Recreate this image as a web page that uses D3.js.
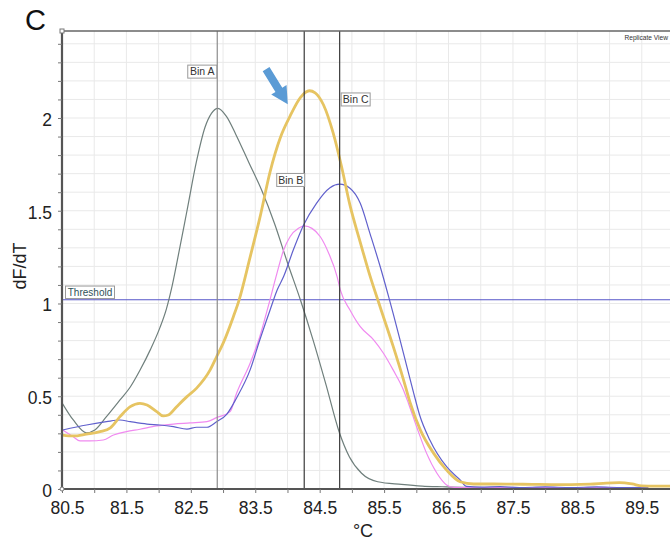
<!DOCTYPE html>
<html>
<head>
<meta charset="utf-8">
<script src="https://cdn.jsdelivr.net/npm/d3@7"></script>
<style>
  body { margin: 0; background: #fff; }
  text { font-family: "Liberation Sans", Arial, sans-serif; }
</style>
</head>
<body>
<svg id="chart" width="670" height="540"></svg>
<script>
// Melt-curve derivative data: [temperature °C, dF/dT]
const greyCurve = [
  [80.50,0.465],[80.675,0.372],[80.88,0.303],[81.01,0.318],[81.19,0.390],[81.40,0.480],
  [81.56,0.55],[81.71,0.64],[81.87,0.75],[82.02,0.87],[82.12,0.97],[82.20,1.08],
  [82.30,1.25],[82.44,1.50],[82.59,1.77],[82.72,1.95],[82.82,2.025],[82.92,2.052],
  [83.05,2.01],[83.20,1.91],[83.40,1.76],[83.60,1.61],[83.80,1.43],[84.00,1.22],
  [84.20,1.02],[84.40,0.80],[84.60,0.56],[84.80,0.31],[84.96,0.174],
  [85.15,0.085],[85.40,0.039],[85.77,0.025],[86.09,0.016],[86.40,0.012],[86.70,0.009],
  [87.2,0.008],[87.8,0.008],[88.4,0.007],[89.0,0.008],[89.6,0.007]
];
const pinkCurve = [
  [80.51,0.318],[80.675,0.282],[80.78,0.259],[80.93,0.259],[81.14,0.264],[81.30,0.291],
  [81.50,0.309],[81.71,0.322],[81.97,0.340],[82.23,0.350],[82.49,0.356],[82.75,0.363],
  [82.90,0.385],[83.11,0.417],[83.21,0.516],[83.42,0.678],[83.57,0.821],[83.70,0.983],
  [83.83,1.154],[83.94,1.288],[84.04,1.360],[84.17,1.405],[84.26,1.418],[84.38,1.405],
  [84.51,1.360],[84.64,1.271],[84.77,1.145],[84.82,1.073],[84.97,0.965],[85.13,0.875],
  [85.34,0.803],[85.49,0.732],[85.64,0.642],[85.80,0.534],[85.88,0.46],[86.01,0.33],
  [86.16,0.192],[86.32,0.085],[86.47,0.022],[86.58,0.009],[87.0,0.007],[87.5,0.008],
  [88.0,0.007],[88.5,0.008],[89.0,0.007],[89.6,0.008]
];
const blueCurve = [
  [80.51,0.318],[80.88,0.345],[81.19,0.363],[81.40,0.372],[81.56,0.363],[81.82,0.350],
  [82.02,0.345],[82.23,0.336],[82.44,0.323],[82.59,0.333],[82.75,0.333],[82.90,0.363],
  [83.06,0.404],[83.21,0.491],[83.42,0.642],[83.57,0.803],[83.73,0.965],[83.84,1.073],
  [83.94,1.145],[84.09,1.288],[84.25,1.423],[84.45,1.540],[84.66,1.624],[84.81,1.643],
  [84.97,1.621],[85.13,1.540],[85.28,1.378],[85.44,1.198],[85.57,1.037],[85.64,0.947],
  [85.80,0.732],[85.96,0.516],[86.05,0.40],[86.21,0.264],[86.47,0.120],[86.68,0.049],
  [86.78,0.014],[87.0,0.010],[87.3,0.013],[87.6,0.008],[88.0,0.011],[88.4,0.008],
  [88.8,0.011],[89.2,0.008],[89.6,0.009]
];
const yellowCurve = [
  [80.51,0.291],[80.675,0.286],[80.88,0.296],[81.09,0.309],[81.25,0.330],[81.40,0.390],
  [81.56,0.444],[81.71,0.462],[81.82,0.453],[81.97,0.417],[82.07,0.394],[82.15,0.399],
  [82.28,0.444],[82.44,0.498],[82.59,0.544],[82.80,0.642],[82.90,0.713],[83.00,0.785],
  [83.16,0.929],[83.25,1.02],[83.42,1.25],[83.57,1.46],[83.73,1.71],[83.89,1.895],
  [84.04,2.01],[84.20,2.11],[84.34,2.147],[84.43,2.136],[84.56,2.070],[84.71,1.918],
  [84.84,1.737],[84.97,1.53],[85.13,1.33],[85.28,1.15],[85.44,0.98],
  [85.64,0.77],[85.80,0.59],[85.90,0.47],[86.06,0.32],[86.27,0.192],[86.47,0.102],
  [86.68,0.039],[86.89,0.027],[87.2,0.027],[87.5,0.026],[87.8,0.025],[88.1,0.024],
  [88.4,0.024],[88.7,0.026],[88.95,0.032],[89.15,0.034],[89.35,0.027],[89.5,0.017],
  [89.7,0.016],[90.0,0.016]
];

const xTickLabels = [80.5, 81.5, 82.5, 83.5, 84.5, 85.5, 86.5, 87.5, 88.5, 89.5];
const yTickLabels = [0, 0.5, 1, 1.5, 2];
const binNames = ["Bin A", "Bin B", "Bin C"];
const binTemps = [82.91, 84.26, 84.81];
const thresholdValue = 1.02;
// annotation arrow: tail and tip in data units
const arrowTail = [83.668, 2.264];
const arrowTip = [84.005, 2.074];

const svg = d3.select("#chart");
const pLeft = 62, pTop = 31, pBottom = 489, pRight = 674;

const x = d3.scaleLinear().domain([80.5, 90]).range([pLeft, pRight]);
const y = d3.scaleLinear().domain([0, 2.469]).range([pBottom, pTop]);

svg.append("defs").append("clipPath").attr("id", "plotClip")
  .append("rect").attr("x", pLeft).attr("y", pTop)
  .attr("width", pRight - pLeft).attr("height", pBottom - pTop);

// grid
const grid = svg.append("g").attr("stroke", "#e9e9e9").attr("stroke-width", 1);
grid.selectAll("line.v").data(d3.range(1, 20).map(i => 80.5 + i * 0.5)).join("line")
  .attr("class", "v")
  .attr("x1", d => x(d)).attr("x2", d => x(d))
  .attr("y1", pTop).attr("y2", pBottom);
grid.selectAll("line.h").data(d3.range(1, 25).map(i => i / 10)).join("line")
  .attr("class", "h")
  .attr("x1", pLeft).attr("x2", pRight)
  .attr("y1", d => y(d)).attr("y2", d => y(d));

const plot = svg.append("g").attr("clip-path", "url(#plotClip)");

// threshold
plot.append("line")
  .attr("x1", pLeft).attr("x2", pRight)
  .attr("y1", y(thresholdValue)).attr("y2", y(thresholdValue))
  .attr("stroke", "#5656c8").attr("stroke-width", 1.1);

const line = d3.line().x(d => x(d[0])).y(d => y(d[1])).curve(d3.curveMonotoneX);
const curves = [
  { data: greyCurve, color: "#6f7f7c", width: 1.2 },
  { data: pinkCurve, color: "#f08af0", width: 1.2 },
  { data: blueCurve, color: "#6060cc", width: 1.2 },
  { data: yellowCurve, color: "#e6c462", width: 2.8 }
];
plot.selectAll("path.curve").data(curves).join("path")
  .attr("class", "curve")
  .attr("d", d => line(d.data))
  .attr("fill", "none")
  .attr("stroke", d => d.color)
  .attr("stroke-width", d => d.width)
  .attr("stroke-linejoin", "round");

// bin markers
const binColors = ["#8c8c8c", "#3a3a3a", "#3a3a3a"];
plot.selectAll("line.bin").data(binTemps).join("line")
  .attr("class", "bin")
  .attr("x1", d => x(d)).attr("x2", d => x(d))
  .attr("y1", pTop).attr("y2", pBottom)
  .attr("stroke", (d, i) => binColors[i]).attr("stroke-width", 1.2);

// frame
svg.append("line").attr("x1", pLeft).attr("x2", 670).attr("y1", pTop).attr("y2", pTop)
  .attr("stroke", "#666").attr("stroke-width", 1.3);

// axes
const yAxis = d3.axisLeft(y)
  .tickValues(d3.range(0, 25).map(i => i / 10))
  .tickSize(4).tickPadding(6)
  .tickFormat(d => yTickLabels.some(v => Math.abs(v - d) < 1e-6) ? String(Math.round(d * 10) / 10) : "");
const gy = svg.append("g").attr("transform", `translate(${pLeft},0)`).call(yAxis);
gy.select(".domain").attr("stroke", "#555").attr("stroke-width", 2.2)
  .attr("d", `M0,${pTop}V${pBottom}`);
gy.selectAll(".tick line").attr("stroke", "#777");
gy.selectAll(".tick text").attr("font-size", 17.5).attr("fill", "#222")
  .attr("font-family", "'Liberation Sans', Arial, sans-serif").attr("dy", "0.42em");

const xAxis = d3.axisBottom(x)
  .tickValues(d3.range(0, 20).map(i => 80.5 + i * 0.5))
  .tickSize(4).tickPadding(9)
  .tickFormat(d => xTickLabels.some(v => Math.abs(v - d) < 1e-6) ? d3.format(".1f")(d) : "");
const gx = svg.append("g").attr("transform", `translate(0,${pBottom})`).call(xAxis);
gx.select(".domain").attr("stroke", "#555").attr("stroke-width", 2.2)
  .attr("d", `M${pLeft},0H670`);
gx.selectAll(".tick line").attr("stroke", "#777");
gx.selectAll(".tick text").attr("font-size", 17.5).attr("fill", "#222")
  .attr("font-family", "'Liberation Sans', Arial, sans-serif");
gx.selectAll(".tick text").filter(d => d === 80.5).attr("dx", 5);

// corner markers
svg.append("rect").attr("x", pLeft - 2).attr("y", pTop - 2).attr("width", 4).attr("height", 4)
  .attr("fill", "#fff").attr("stroke", "#777").attr("stroke-width", 1);
svg.append("circle").attr("cx", pLeft).attr("cy", pBottom).attr("r", 2)
  .attr("fill", "#fff").attr("stroke", "#777").attr("stroke-width", 1);

// axis titles
svg.append("text").attr("x", 363).attr("y", 537).attr("text-anchor", "middle")
  .attr("font-size", 18).attr("fill", "#222").text("°C");
svg.append("text").attr("transform", "translate(26,266) rotate(-90)")
  .attr("text-anchor", "middle").attr("font-size", 18).attr("fill", "#222").text("dF/dT");

// panel letter
svg.append("text").attr("x", 25).attr("y", 30).attr("font-size", 29)
  .attr("fill", "#111").text("C");

svg.append("text").attr("x", 668).attr("y", 40).attr("text-anchor", "end")
  .attr("font-size", 6.6).attr("fill", "#333").text("Replicate View");

// label boxes
function labelBox(text, cx, cy, w, h, fs, color) {
  const g = svg.append("g");
  g.append("rect").attr("x", cx - w / 2).attr("y", cy - h / 2).attr("width", w).attr("height", h)
    .attr("fill", "#fff").attr("stroke", "#9a9a9a").attr("stroke-width", 1);
  g.append("text").attr("x", cx).attr("y", cy).attr("dy", "0.36em")
    .attr("text-anchor", "middle").attr("font-size", fs).attr("fill", color).text(text);
}
labelBox(binNames[0], x(binTemps[0]) - 15, y(2.25), 29, 13, 10.5, "#333");
labelBox(binNames[1], x(binTemps[1]) - 13.5, y(1.666), 28, 13, 10.5, "#333");
labelBox(binNames[2], x(binTemps[2]) + 16, y(2.10), 29, 13, 10.5, "#333");
labelBox("Threshold", 90, y(thresholdValue) - 7.5, 49, 12.5, 10, "#2f5258");

// arrow annotation
(function () {
  const x0 = x(arrowTail[0]), y0 = y(arrowTail[1]);
  const x1 = x(arrowTip[0]), y1 = y(arrowTip[1]);
  const dx = x1 - x0, dy = y1 - y0, len = Math.hypot(dx, dy);
  const ux = dx / len, uy = dy / len, nx = -uy, ny = ux;
  const headLen = 17, headHalf = 9, shaftHalf = 4;
  const bx = x1 - ux * headLen, by = y1 - uy * headLen;
  const pts = [
    [x0 + nx * shaftHalf, y0 + ny * shaftHalf],
    [bx + nx * shaftHalf, by + ny * shaftHalf],
    [bx + nx * headHalf, by + ny * headHalf],
    [x1, y1],
    [bx - nx * headHalf, by - ny * headHalf],
    [bx - nx * shaftHalf, by - ny * shaftHalf],
    [x0 - nx * shaftHalf, y0 - ny * shaftHalf]
  ];
  svg.append("path").attr("d", "M" + pts.map(p => p.join(",")).join("L") + "Z")
    .attr("fill", "#5b9bd5");
})();
</script>
</body>
</html>
